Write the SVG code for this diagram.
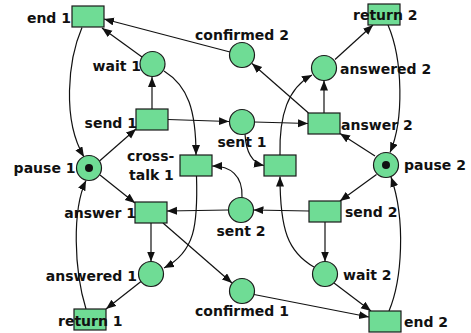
<svg xmlns="http://www.w3.org/2000/svg" width="471" height="333" viewBox="0 0 471 333">
  <style>
    .pl { fill: #6fdc95; stroke: #1a1a1a; stroke-width: 1.2; }
    .tr { fill: #6fdc95; stroke: #1a1a1a; stroke-width: 1.2; }
    .tok { fill: #111; }
    .lb { font-family: "DejaVu Sans", "Liberation Sans", sans-serif; font-weight: bold; font-size: 14px; fill: #111; }
    .arc { fill: none; stroke: #111; stroke-width: 1.2; marker-end: url(#ah); }
  </style>
  <defs>
    <marker id="ah" markerUnits="userSpaceOnUse" markerWidth="11" markerHeight="9" refX="10" refY="4" orient="auto">
      <path d="M0,0 L10,4 L0,8 z" fill="#111"/>
    </marker>
  </defs>
  <rect width="471" height="333" fill="#fff"/>

  <!-- arcs -->
  <g id="connectors">
    <path class="arc" d="M230,52 L104,19"/>
    <path class="arc" d="M142,57 L102,28"/>
    <path class="arc" d="M152,109 L152,77"/>
    <path class="arc" d="M168,119.5 L229,121.5"/>
    <path class="arc" d="M254.5,122 L308,123.5"/>
    <path class="arc" d="M164,71 C188,86 196,110 196,155"/>
    <path class="arc" d="M82,27.5 C68,60 62,120 84,157"/>
    <path class="arc" d="M99.5,161 L136,129"/>
    <path class="arc" d="M100,175 L135,203"/>
    <path class="arc" d="M228.5,210 L167,211"/>
    <path class="arc" d="M242,197.5 C243,175 230,166 212,166"/>
    <path class="arc" d="M245,134 C246,152 252,163 264,165.5"/>
    <path class="arc" d="M196.5,176 C198,225 195,252 164,268"/>
    <path class="arc" d="M280,155 C279,115 288,88 312,75"/>
    <path class="arc" d="M314,267 C288,252 280,230 280,176.5"/>
    <path class="arc" d="M151,223 L151,261.5"/>
    <path class="arc" d="M163,223 L232,283"/>
    <path class="arc" d="M141,281.5 L106,309"/>
    <path class="arc" d="M86,309 C74,270 72,210 86,180.5"/>
    <path class="arc" d="M254,294.5 L369,317"/>
    <path class="arc" d="M334,283 L371,311"/>
    <path class="arc" d="M389,311 C402,280 406,220 391,177"/>
    <path class="arc" d="M376.5,174.5 L340,201"/>
    <path class="arc" d="M309,211 L253.5,210"/>
    <path class="arc" d="M325,222 L325,261.5"/>
    <path class="arc" d="M375,156 L340,133.5"/>
    <path class="arc" d="M324,113 L324,80.5"/>
    <path class="arc" d="M308.5,113 L252,63.5"/>
    <path class="arc" d="M335,59.5 L373,25"/>
    <path class="arc" d="M388,25 C403,60 404,120 390,152.5"/>
  </g>

  <!-- transitions -->
  <g id="end1"><rect class="tr" x="72" y="6" width="32" height="21"/><text class="lb" x="71" y="23" text-anchor="end">end 1</text></g>
  <g id="send1"><rect class="tr" x="136" y="109" width="32" height="21"/><text class="lb" x="137" y="128" text-anchor="end">send 1</text></g>
  <g id="crosstalk1"><rect class="tr" x="180" y="155" width="32" height="21"/><text class="lb" x="127" y="160.5">cross-</text><text class="lb" x="129" y="180">talk 1</text></g>
  <g id="crosstalk2"><rect class="tr" x="264" y="155" width="32" height="21"/></g>
  <g id="answer1"><rect class="tr" x="135" y="202" width="32" height="21"/><text class="lb" x="136" y="218" text-anchor="end">answer 1</text></g>
  <g id="return1"><rect class="tr" x="74" y="309" width="32" height="21"/><text class="lb" x="58" y="326">return 1</text></g>
  <g id="answer2"><rect class="tr" x="308" y="113" width="32" height="21"/><text class="lb" x="341" y="130">answer 2</text></g>
  <g id="return2"><rect class="tr" x="368" y="4" width="32" height="21"/><text class="lb" x="353" y="20">return 2</text></g>
  <g id="send2"><rect class="tr" x="309" y="201" width="32" height="21"/><text class="lb" x="345" y="217">send 2</text></g>
  <g id="end2"><rect class="tr" x="369" y="311" width="32" height="21"/><text class="lb" x="404" y="327">end 2</text></g>

  <!-- places -->
  <g id="wait1"><circle class="pl" cx="152.5" cy="64" r="12.5"/><text class="lb" x="141" y="71" text-anchor="end">wait 1</text></g>
  <g id="confirmed2"><circle class="pl" cx="242" cy="55" r="12.5"/><text class="lb" x="242" y="40" text-anchor="middle">confirmed 2</text></g>
  <g id="answered2"><circle class="pl" cx="324" cy="68" r="12.5"/><text class="lb" x="340" y="74">answered 2</text></g>
  <g id="sent1"><circle class="pl" cx="242" cy="122" r="12.5"/><text class="lb" x="242" y="147" text-anchor="middle">sent 1</text></g>
  <g id="pause1"><circle class="pl" cx="89" cy="168" r="12.5"/><circle class="tok" cx="89" cy="168" r="4"/><text class="lb" x="75.5" y="173" text-anchor="end">pause 1</text></g>
  <g id="pause2"><circle class="pl" cx="386" cy="165" r="12.5"/><circle class="tok" cx="386" cy="165" r="4"/><text class="lb" x="404" y="170">pause 2</text></g>
  <g id="sent2"><circle class="pl" cx="241" cy="210" r="12.5"/><text class="lb" x="241" y="236" text-anchor="middle">sent 2</text></g>
  <g id="answered1"><circle class="pl" cx="151" cy="274" r="12.5"/><text class="lb" x="137" y="281" text-anchor="end">answered 1</text></g>
  <g id="confirmed1"><circle class="pl" cx="242" cy="291" r="12.5"/><text class="lb" x="242" y="316" text-anchor="middle">confirmed 1</text></g>
  <g id="wait2"><circle class="pl" cx="325" cy="274" r="12.5"/><text class="lb" x="343" y="280">wait 2</text></g>
</svg>
